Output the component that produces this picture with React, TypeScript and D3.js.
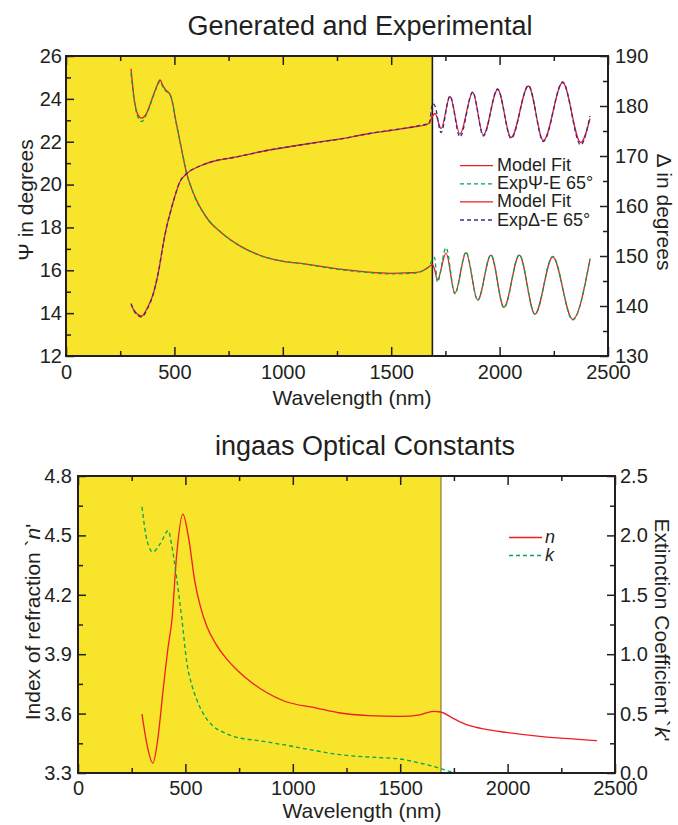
import React, { useEffect, useRef } from 'react';
import * as d3 from 'd3';

// ---- data ----
// upper panel: Psi (left axis, degrees)
const psiWavelengths = [300, 315, 330, 349, 370, 395, 415, 434, 445, 457, 480, 492, 503, 518, 534, 557, 580, 603, 630, 660, 700, 741, 800, 864, 930, 1002, 1100, 1156, 1264, 1380, 1494, 1570, 1618, 1650, 1679, 1690, 1700, 1713, 1753, 1794, 1845, 1899, 1960, 2020, 2091, 2163, 2245, 2337, 2417];
const psiModel = [25.4, 23.95, 23.3, 23.1, 23.3, 23.95, 24.5, 24.88, 24.65, 24.45, 24.2, 23.8, 23.17, 22.4, 21.6, 20.5, 19.8, 19.25, 18.75, 18.3, 17.9, 17.55, 17.15, 16.82, 16.58, 16.42, 16.3, 16.22, 16.05, 15.93, 15.86, 15.88, 15.9, 16.0, 16.2, 16.28, 16.05, 15.55, 16.8, 14.93, 16.82, 14.61, 16.71, 14.27, 16.71, 13.95, 16.63, 13.71, 16.51];
const psiExp = [25.2, 23.9, 23.2, 22.95, 23.25, 23.9, 24.45, 24.82, 24.6, 24.4, 24.2, 23.8, 23.15, 22.4, 21.6, 20.5, 19.8, 19.22, 18.75, 18.3, 17.9, 17.55, 17.15, 16.82, 16.58, 16.42, 16.3, 16.2, 16.03, 15.91, 15.83, 15.85, 15.88, 16.0, 16.25, 16.5, 16.6, 15.45, 17.05, 14.9, 16.85, 14.6, 16.72, 14.25, 16.72, 13.95, 16.65, 13.68, 16.55];

// upper panel: Delta (right axis, degrees)
const deltaWavelengths = [300, 320, 349, 375, 403, 425, 449, 465, 480, 497, 526, 557, 618, 695, 772, 926, 1079, 1233, 1264, 1400, 1494, 1600, 1656, 1675, 1691, 1702, 1730, 1771, 1817, 1876, 1925, 1991, 2053, 2133, 2202, 2291, 2374, 2417];
const deltaModel = [140.2, 138.8, 138.0, 139.6, 142.5, 146.5, 152.5, 156.0, 158.5, 161.2, 164.9, 166.5, 168.0, 169.1, 169.7, 171.1, 172.2, 173.2, 173.4, 174.5, 175.1, 175.8, 176.2, 176.6, 178.0, 178.5, 175.5, 181.9, 174.4, 182.7, 174.2, 183.3, 173.7, 184.0, 173.1, 184.7, 172.7, 177.5];
const deltaExp = [140.5, 138.6, 137.8, 139.4, 142.5, 146.5, 152.5, 156.0, 158.5, 161.2, 164.9, 166.5, 168.0, 169.1, 169.7, 171.1, 172.2, 173.2, 173.4, 174.5, 175.1, 175.8, 176.3, 176.4, 180.5, 180.0, 174.7, 182.0, 173.8, 182.8, 174.0, 183.4, 173.5, 184.1, 172.9, 184.8, 172.2, 178.0];

// lower panel: optical constants
const nWavelengths = [298, 320, 349, 370, 398, 420, 437, 460, 488, 514, 545, 570, 600, 640, 693, 750, 817, 880, 956, 1111, 1220, 1350, 1499, 1592, 1654, 1688, 1740, 1809, 1900, 1995, 2150, 2300, 2416];
const nValues = [3.598, 3.45, 3.35, 3.46, 3.737, 3.94, 4.07, 4.41, 4.607, 4.494, 4.26, 4.14, 4.04, 3.955, 3.875, 3.81, 3.75, 3.705, 3.665, 3.628, 3.603, 3.59, 3.586, 3.594, 3.611, 3.608, 3.58, 3.544, 3.52, 3.505, 3.485, 3.472, 3.463];
const kWavelengths = [298, 321, 349, 383, 421, 437, 460, 484, 507, 530, 553, 590, 631, 680, 724, 850, 956, 1100, 1220, 1400, 1499, 1600, 1654, 1700, 1731, 1770, 1809, 2000, 2200, 2416];
const kValues = [2.24, 1.96, 1.86, 1.93, 2.04, 1.91, 1.63, 1.29, 0.925, 0.74, 0.617, 0.48, 0.392, 0.34, 0.308, 0.27, 0.238, 0.19, 0.154, 0.13, 0.118, 0.08, 0.056, 0.03, 0.013, 0.003, 0, 0, 0, 0];

// axes
const wlTicks = [0, 500, 1000, 1500, 2000, 2500];
const wlMinor = [250, 750, 1250, 1750, 2250];
const psiTicks = [12, 14, 16, 18, 20, 22, 24, 26];
const psiMinor = [13, 15, 17, 19, 21, 23, 25];
const deltaTicks = [130, 140, 150, 160, 170, 180, 190];
const deltaMinor = [135, 145, 155, 165, 175, 185];
const nTicks = [3.3, 3.6, 3.9, 4.2, 4.5, 4.8];
const nMinor = [3.45, 3.75, 4.05, 4.35, 4.65];
const kTicks = [0, 0.5, 1.0, 1.5, 2.0, 2.5];
const kMinor = [0.25, 0.75, 1.25, 1.75, 2.25];
const fitRangeEnd = 1690;

const topLegend = ['Model Fit', 'Exp\u03A8-E 65\u00B0', 'Model Fit', 'Exp\u0394-E 65\u00B0'];
const bottomLegend = ['n', 'k'];

const FONT = "'Liberation Sans', Arial, Helvetica, sans-serif";
const INK = '#231f20';
const YELLOW = '#f7e42b';
const RED = '#ef1c24';
const GREEN = '#00a651';
const NAVY = '#2e3192';

const drawPanel = (root, p) => {
  const { box } = p;
  const x = d3.scaleLinear().domain([0, 2500]).range([box.left, box.right]);
  const yL = d3.scaleLinear().domain(p.leftDomain).range([box.bottom, box.top]);
  const yR = d3.scaleLinear().domain(p.rightDomain).range([box.bottom, box.top]);
  const g = root.append('g');

  // shaded fit range
  g.append('rect')
    .attr('x', x(0))
    .attr('y', box.top)
    .attr('width', x(fitRangeEnd) - x(0))
    .attr('height', box.bottom - box.top)
    .attr('fill', YELLOW);
  g.append('line')
    .attr('x1', x(fitRangeEnd)).attr('x2', x(fitRangeEnd))
    .attr('y1', box.top).attr('y2', box.bottom)
    .attr('stroke', p.edgeColor)
    .attr('stroke-width', p.edgeWidth);

  const curves = g.append('g');

  // frame
  g.append('rect')
    .attr('x', box.left).attr('y', box.top)
    .attr('width', box.right - box.left)
    .attr('height', box.bottom - box.top)
    .attr('fill', 'none')
    .attr('stroke', INK)
    .attr('stroke-width', 2);

  const axis = (gen, scale, vals, size, fmt, pad, tr) => {
    const a = g.append('g')
      .attr('transform', tr)
      .call(gen(scale).tickValues(vals).tickSize(-size).tickSizeOuter(0).tickPadding(pad).tickFormat(fmt));
    a.select('.domain').remove();
    a.selectAll('line').attr('stroke', INK).attr('stroke-width', 1.5);
    a.selectAll('text')
      .attr('fill', INK)
      .style('font-size', '20px')
      .style('font-family', FONT);
  };
  const none = () => '';

  axis(d3.axisBottom, x, wlTicks, 9, d3.format('d'), p.xPad, `translate(0,${box.bottom})`);
  axis(d3.axisBottom, x, wlMinor, 5, none, 0, `translate(0,${box.bottom})`);
  axis(d3.axisTop, x, wlTicks, 9, none, 0, `translate(0,${box.top})`);
  axis(d3.axisTop, x, wlMinor, 5, none, 0, `translate(0,${box.top})`);
  axis(d3.axisLeft, yL, p.leftTicks, 8, p.leftFmt, p.leftPad, `translate(${box.left},0)`);
  axis(d3.axisLeft, yL, p.leftMinor, 5, none, 0, `translate(${box.left},0)`);
  axis(d3.axisRight, yR, p.rightTicks, 8, p.rightFmt, p.rightPad, `translate(${box.right},0)`);
  axis(d3.axisRight, yR, p.rightMinor, 5, none, 0, `translate(${box.right},0)`);

  return { x, yL, yR, curves };
};

const plotLine = (g, xs, ys, x, y, color, dash) => {
  const pts = xs.map((w, i) => [w, ys[i]]);
  const line = d3.line()
    .x(d => x(d[0]))
    .y(d => y(d[1]))
    .curve(d3.curveMonotoneX);
  g.append('path')
    .datum(pts)
    .attr('d', line)
    .attr('fill', 'none')
    .attr('stroke', color)
    .attr('stroke-width', 1.3)
    .attr('stroke-dasharray', dash || null);
};

const App = () => {
  const svgRef = useRef(null);

  useEffect(() => {
    const svg = d3.select(svgRef.current);
    svg.selectAll('*').remove();

    // ---- upper panel ----
    const top = drawPanel(svg, {
      box: { left: 66, right: 608, top: 56, bottom: 356 },
      leftDomain: [12, 26], rightDomain: [130, 190],
      leftTicks: psiTicks, leftMinor: psiMinor,
      rightTicks: deltaTicks, rightMinor: deltaMinor,
      leftFmt: d3.format('d'), rightFmt: d3.format('d'),
      leftPad: 4, rightPad: 7, xPad: 9,
      edgeColor: INK, edgeWidth: 1.6,
    });
    plotLine(top.curves, psiWavelengths, psiModel, top.x, top.yL, RED);
    plotLine(top.curves, psiWavelengths, psiExp, top.x, top.yL, GREEN, '4,3');
    plotLine(top.curves, deltaWavelengths, deltaModel, top.x, top.yR, RED);
    plotLine(top.curves, deltaWavelengths, deltaExp, top.x, top.yR, NAVY, '4,3');

    // ---- lower panel ----
    const bot = drawPanel(svg, {
      box: { left: 78, right: 615, top: 476, bottom: 773 },
      leftDomain: [3.3, 4.8], rightDomain: [0, 2.5],
      leftTicks: nTicks, leftMinor: nMinor,
      rightTicks: kTicks, rightMinor: kMinor,
      leftFmt: d3.format('.1f'), rightFmt: d3.format('.1f'),
      leftPad: 6, rightPad: 5, xPad: 8,
      edgeColor: '#6e6424', edgeWidth: 1,
    });
    plotLine(bot.curves, nWavelengths, nValues, bot.x, bot.yL, RED);
    plotLine(bot.curves, kWavelengths, kValues, bot.x, bot.yR, GREEN, '4,3');

    const txt = (xp, yp, s, size, anchor = 'middle', rot = 0) =>
      svg.append('text')
        .attr('transform', `translate(${xp},${yp}) rotate(${rot})`)
        .attr('text-anchor', anchor)
        .style('font-family', FONT)
        .style('font-size', `${size}px`)
        .attr('fill', INK)
        .text(s);

    // titles
    txt(360, 35, 'Generated and Experimental', 27);
    txt(365, 455, 'ingaas Optical Constants', 27);

    // axis titles
    txt(352, 405, 'Wavelength (nm)', 21);
    txt(362, 818, 'Wavelength (nm)', 21);
    txt(33, 200, '\u03A8 in degrees', 21, 'middle', -90);
    txt(657, 212, '\u0394 in degrees', 21, 'middle', 90);

    const nLabel = txt(40, 622, 'Index of refraction `', 21, 'middle', -90);
    nLabel.append('tspan').style('font-style', 'italic').text('n');
    nLabel.append('tspan').text("'");
    const kLabel = txt(655, 630, 'Extinction Coefficient `', 21, 'middle', 90);
    kLabel.append('tspan').style('font-style', 'italic').text('k');
    kLabel.append('tspan').text("'");

    // upper legend
    const topStyles = [[RED, null], [GREEN, '4,3'], [RED, null], [NAVY, '4,3']];
    topLegend.forEach((label, i) => {
      const yy = 165.7 + i * 18.1;
      svg.append('line')
        .attr('x1', 460).attr('x2', 493)
        .attr('y1', yy).attr('y2', yy)
        .attr('stroke', topStyles[i][0])
        .attr('stroke-width', 1.3)
        .attr('stroke-dasharray', topStyles[i][1]);
      txt(497, yy + 5.5, label, 18, 'start');
    });

    // lower legend
    const botStyles = [[RED, null], [GREEN, '4,3']];
    bottomLegend.forEach((label, i) => {
      const yy = 537.5 + i * 18;
      svg.append('line')
        .attr('x1', 509).attr('x2', 542)
        .attr('y1', yy).attr('y2', yy)
        .attr('stroke', botStyles[i][0])
        .attr('stroke-width', 1.3)
        .attr('stroke-dasharray', botStyles[i][1]);
      txt(545, yy + 5.5, label, 18, 'start').style('font-style', 'italic');
    });
  }, []);

  return (
    <svg
      ref={svgRef}
      width={678}
      height={825}
      style={{ position: 'absolute', left: 0, top: 0, background: '#fff' }}
    />
  );
};

export default App;
